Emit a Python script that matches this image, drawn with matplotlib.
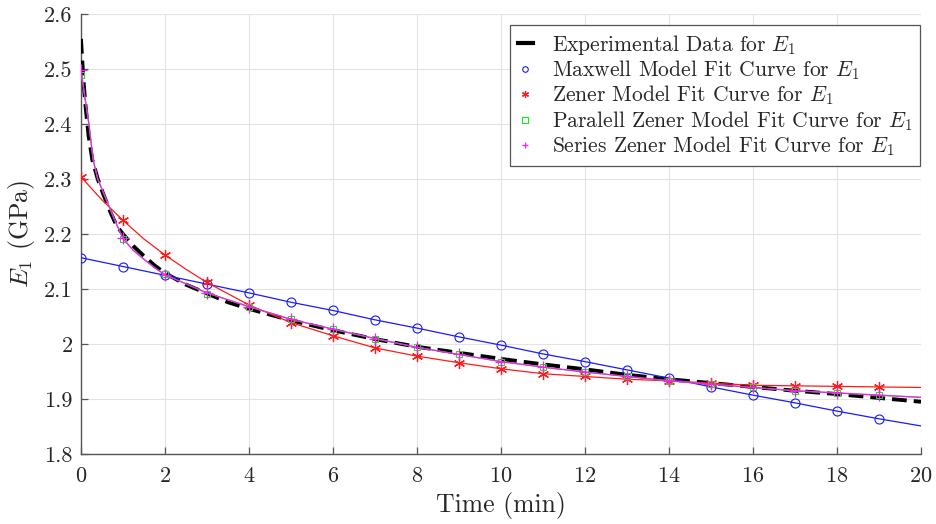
import numpy as np
import matplotlib
matplotlib.use('Agg')
import matplotlib.pyplot as plt
from matplotlib.lines import Line2D
from matplotlib.ticker import FuncFormatter

plt.rcParams['font.family'] = 'serif'
plt.rcParams['font.serif'] = ['cmr10', 'DejaVu Serif']
plt.rcParams['mathtext.fontset'] = 'cm'
plt.rcParams['axes.formatter.use_mathtext'] = True

# experimental data (dense near t=0)
t_exp = [0, 0.05, 0.1, 0.18, 0.27, 0.4, 0.52, 0.7, 0.85, 1, 1.25, 1.5, 1.75, 2,
         2.5, 3, 3.5, 4, 5, 6, 7, 8, 9, 10, 11, 12, 13, 14, 15, 16, 17, 18, 19, 20]
E_exp = [2.555, 2.49, 2.44, 2.38, 2.335, 2.30, 2.275, 2.24, 2.215, 2.20, 2.178,
         2.16, 2.143, 2.129, 2.108, 2.092, 2.076, 2.064, 2.043, 2.025, 2.009,
         1.995, 1.984, 1.973, 1.963, 1.954, 1.944, 1.936, 1.929, 1.922, 1.915,
         1.909, 1.902, 1.895]

# fit curves, sampled at whole minutes 0..20
t_fit = list(range(21))
E_maxwell = [2.157, 2.141, 2.125, 2.109, 2.093, 2.076, 2.061, 2.044, 2.029, 2.013,
             1.998, 1.982, 1.968, 1.953, 1.938, 1.922, 1.907, 1.893, 1.878, 1.864,
             1.851]
E_zener = [2.304, 2.225, 2.162, 2.112, 2.071, 2.039, 2.015, 1.993, 1.978, 1.966,
           1.955, 1.946, 1.941, 1.936, 1.933, 1.929, 1.925, 1.924, 1.923, 1.922,
           1.921]
E_par = [2.490, 2.191, 2.127, 2.091, 2.068, 2.045, 2.027, 2.010, 1.994, 1.981,
         1.968, 1.958, 1.949, 1.941, 1.933, 1.927, 1.921, 1.915, 1.911, 1.907,
         1.903]
E_ser = [2.499, 2.192, 2.126, 2.093, 2.068, 2.045, 2.027, 2.010, 1.994, 1.981,
         1.968, 1.958, 1.949, 1.941, 1.933, 1.927, 1.921, 1.915, 1.911, 1.907,
         1.903]

# extra samples of the fitted lines near t=0 where they bend sharply
t_zen_early = [0, 0.5, 1, 1.5, 2, 2.5]
E_zen_early = [2.304, 2.262, 2.225, 2.191, 2.162, 2.136]
t_ser_early = [0, 0.1, 0.19, 0.29, 0.4, 0.52, 0.64, 0.8, 1, 1.25, 1.52, 1.75, 2]
E_ser_early = [2.499, 2.445, 2.40, 2.335, 2.30, 2.278, 2.256, 2.226, 2.192, 2.17,
               2.153, 2.139, 2.126]

labels = ['Experimental Data for $E_1$',
          'Maxwell Model Fit Curve for $E_1$',
          'Zener Model Fit Curve for $E_1$',
          'Paralell Zener Model Fit Curve for $E_1$',
          'Series Zener Model Fit Curve for $E_1$']

fig = plt.figure(figsize=(9.36, 5.24), dpi=100)
ax = fig.add_axes([0.0865, 0.1336, 0.8975, 0.8394])

blue = '#1a1aff'
red = '#ff1a1a'
green = '#19e619'
mag = '#ff19ff'

ax.plot(t_exp, E_exp, color='black', lw=2.8, dashes=(3.8, 1.8), zorder=3)

ax.plot(t_fit, E_maxwell, color=blue, lw=0.9, zorder=4)
ax.plot(t_fit[:20], E_maxwell[:20], ls='none', marker='o', ms=6.5, mfc='none',
        mec=blue, mew=0.8, zorder=4)

t_z = t_zen_early + t_fit[3:]
E_z = E_zen_early + E_zener[3:]
order = np.argsort(t_z)
ax.plot(np.array(t_z)[order], np.array(E_z)[order], color=red, lw=0.9, zorder=4)
ax.plot(t_fit[:20], E_zener[:20], ls='none', marker=(6, 2, 0), ms=8, mec=red,
        mew=0.9, zorder=4)

t_s = t_ser_early + t_fit[3:]
E_s = E_ser_early + E_ser[3:]
ax.plot(t_s, E_s, color=green, lw=0.9, zorder=4)
ax.plot(t_fit[:20], E_par[:20], ls='none', marker='s', ms=5, mfc='none',
        mec=green, mew=0.8, zorder=5)
ax.plot(t_s, E_s, color=mag, lw=0.9, zorder=5)
ax.plot(t_fit[:20], E_ser[:20], ls='none', marker='+', ms=8, mec=mag,
        mew=0.9, zorder=6)

ax.set_xlim(0, 20)
ax.set_ylim(1.8, 2.6)
ax.set_xticks(np.arange(0, 21, 2))
ax.set_yticks(np.arange(1.8, 2.61, 0.1))
ax.yaxis.set_major_formatter(FuncFormatter(lambda v, p: '%g' % round(v, 2)))
ax.grid(True, color='#e3e3e3', lw=0.8)
ax.set_axisbelow(True)
for s in ['top', 'right']:
    ax.spines[s].set_visible(False)
for s in ['left', 'bottom']:
    ax.spines[s].set_color('#555555')
    ax.spines[s].set_linewidth(1.0)
ax.tick_params(direction='in', length=5, width=0.9, color='#555555',
               labelsize=16, labelcolor='#262626', pad=6)
ax.tick_params(axis='x', pad=9)

ax.set_xlabel('Time (min)', fontsize=18.5, color='#262626', labelpad=4)
ax.set_ylabel('$E_1$ (GPa)', fontsize=18.5, color='#262626', labelpad=5)

handles = [
    Line2D([], [], color='black', lw=3),
    Line2D([], [], ls='none', marker='o', ms=4, mfc='none', mec=blue, mew=0.8),
    Line2D([], [], ls='none', marker=(6, 2, 0), ms=5, mec=red, mew=0.9),
    Line2D([], [], ls='none', marker='s', ms=4, mfc='none', mec=green, mew=0.8),
    Line2D([], [], ls='none', marker='+', ms=5, mec=mag, mew=0.9),
]
leg = ax.legend(handles, labels, loc='upper right', bbox_to_anchor=(0.999, 0.975),
                borderaxespad=0, fontsize=15.5, handlelength=0.7, handletextpad=0.9,
                labelspacing=0.08, borderpad=0.35, fancybox=False, framealpha=1)
leg.get_frame().set_edgecolor('#555555')
leg.get_frame().set_linewidth(0.9)
for txt in leg.get_texts():
    txt.set_color('#262626')

fig.savefig('out.png', dpi=100)
